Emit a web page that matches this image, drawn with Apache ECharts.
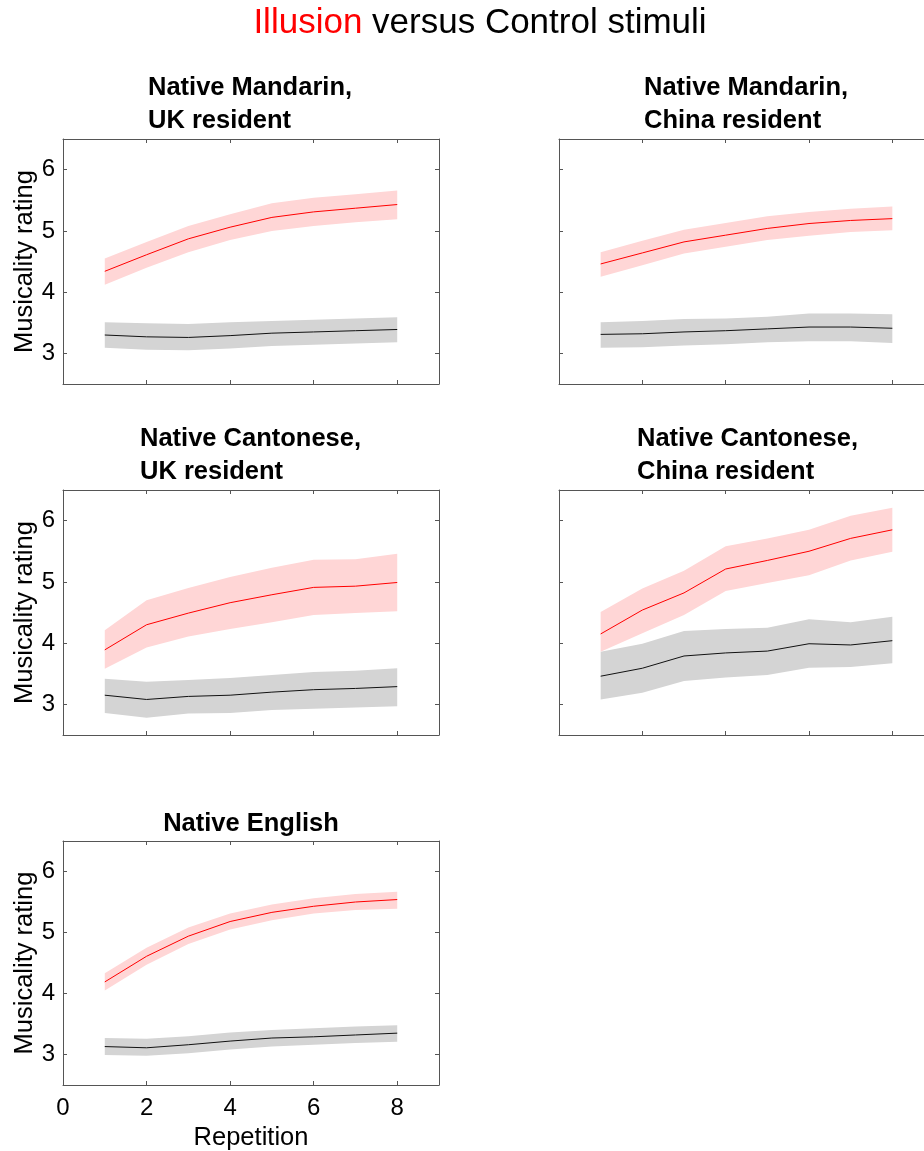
<!DOCTYPE html>
<html>
<head>
<meta charset="utf-8">
<script src="https://cdn.jsdelivr.net/npm/echarts@6.0.0/dist/echarts.min.js"></script>
<style>
  html, body { margin: 0; padding: 0; background: #fff; }
  #main { width: 924px; height: 1151px; }
</style>
</head>
<body>
<div id="main"></div>
<script>
const repetition = [1, 2, 3, 4, 5, 6, 7, 8];
const xTicks = [0, 2, 4, 6, 8];
const yTicks = [3, 4, 5, 6];

// Native Mandarin, UK resident
const mandUkIll   = [4.34, 4.61, 4.87, 5.06, 5.22, 5.31, 5.37, 5.43];
const mandUkIllLo = [4.12, 4.40, 4.65, 4.85, 5.00, 5.08, 5.14, 5.19];
const mandUkIllHi = [4.55, 4.82, 5.08, 5.27, 5.45, 5.54, 5.60, 5.66];
const mandUkCon   = [3.30, 3.27, 3.26, 3.29, 3.33, 3.35, 3.37, 3.39];
const mandUkConLo = [3.09, 3.06, 3.05, 3.08, 3.12, 3.14, 3.16, 3.18];
const mandUkConHi = [3.51, 3.49, 3.48, 3.51, 3.53, 3.55, 3.57, 3.59];

// Native Mandarin, China resident
const mandCnIll   = [4.46, 4.64, 4.82, 4.93, 5.04, 5.12, 5.17, 5.20];
const mandCnIllLo = [4.25, 4.44, 4.63, 4.74, 4.85, 4.92, 4.98, 5.01];
const mandCnIllHi = [4.65, 4.84, 5.02, 5.13, 5.24, 5.31, 5.36, 5.40];
const mandCnCon   = [3.31, 3.32, 3.35, 3.37, 3.40, 3.43, 3.43, 3.41];
const mandCnConLo = [3.09, 3.10, 3.13, 3.15, 3.18, 3.20, 3.20, 3.17];
const mandCnConHi = [3.51, 3.53, 3.56, 3.57, 3.60, 3.65, 3.65, 3.64];

// Native Cantonese, UK resident
const cantUkIll   = [3.89, 4.30, 4.49, 4.66, 4.79, 4.91, 4.93, 4.99];
const cantUkIllLo = [3.58, 3.93, 4.11, 4.23, 4.34, 4.46, 4.49, 4.52];
const cantUkIllHi = [4.21, 4.70, 4.90, 5.08, 5.23, 5.36, 5.37, 5.46];
const cantUkCon   = [3.15, 3.08, 3.13, 3.15, 3.20, 3.24, 3.26, 3.29];
const cantUkConLo = [2.86, 2.78, 2.85, 2.86, 2.91, 2.93, 2.95, 2.97];
const cantUkConHi = [3.42, 3.37, 3.40, 3.43, 3.48, 3.53, 3.55, 3.59];

// Native Cantonese, China resident
const cantCnIll   = [4.15, 4.54, 4.82, 5.21, 5.35, 5.50, 5.71, 5.85];
const cantCnIllLo = [3.86, 4.16, 4.46, 4.85, 4.98, 5.11, 5.35, 5.49];
const cantCnIllHi = [4.51, 4.89, 5.18, 5.58, 5.71, 5.85, 6.08, 6.21];
const cantCnCon   = [3.46, 3.59, 3.79, 3.84, 3.87, 3.99, 3.97, 4.04];
const cantCnConLo = [3.08, 3.19, 3.38, 3.44, 3.48, 3.60, 3.61, 3.67];
const cantCnConHi = [3.86, 3.99, 4.20, 4.23, 4.25, 4.39, 4.34, 4.43];

// Native English
const engIll   = [4.19, 4.61, 4.94, 5.18, 5.33, 5.43, 5.50, 5.54];
const engIllLo = [4.05, 4.47, 4.81, 5.05, 5.20, 5.31, 5.37, 5.39];
const engIllHi = [4.33, 4.75, 5.08, 5.31, 5.46, 5.56, 5.63, 5.67];
const engCon   = [3.13, 3.11, 3.16, 3.22, 3.27, 3.29, 3.32, 3.35];
const engConLo = [2.99, 2.98, 3.02, 3.08, 3.13, 3.16, 3.19, 3.21];
const engConHi = [3.27, 3.26, 3.30, 3.36, 3.40, 3.43, 3.46, 3.48];

const panelTitles = [
  'Native Mandarin,\nUK resident',
  'Native Mandarin,\nChina resident',
  'Native Cantonese,\nUK resident',
  'Native Cantonese,\nChina resident',
  'Native English'
];

const panels = [
  [mandUkIll, mandUkIllLo, mandUkIllHi, mandUkCon, mandUkConLo, mandUkConHi],
  [mandCnIll, mandCnIllLo, mandCnIllHi, mandCnCon, mandCnConLo, mandCnConHi],
  [cantUkIll, cantUkIllLo, cantUkIllHi, cantUkCon, cantUkConLo, cantUkConHi],
  [cantCnIll, cantCnIllLo, cantCnIllHi, cantCnCon, cantCnConLo, cantCnConHi],
  [engIll, engIllLo, engIllHi, engCon, engConLo, engConHi]
];

const FONT = 'Liberation Sans, Arial, sans-serif';
const AXIS_COLOR = '#555';

const gridPos = [
  { left: 63, top: 139, width: 376, height: 245 },
  { left: 559, top: 139, width: 375, height: 245 },
  { left: 63, top: 490, width: 376, height: 245 },
  { left: 559, top: 490, width: 375, height: 245 },
  { left: 63, top: 841, width: 376, height: 244 }
];

// title placement: [left, top, align]
const titlePos = [
  [148, 71, 'left'],
  [644, 71, 'left'],
  [140, 422, 'left'],
  [637, 422, 'left'],
  [251, 807, 'center']
];

const bandItem = (lo, hi, color) => (params, api) => {
  if (params.dataIndex !== 0) return;
  const pts = [];
  repetition.forEach((r, i) => pts.push(api.coord([r, hi[i]])));
  for (let i = repetition.length - 1; i >= 0; i--) pts.push(api.coord([repetition[i], lo[i]]));
  return {
    type: 'polygon',
    shape: { points: pts },
    style: { fill: color, stroke: null }
  };
};

const grid = [], xAxis = [], yAxis = [], series = [];
const title = [{
  text: '{r|Illusion} versus Control stimuli',
  left: 480, top: 6, textAlign: 'center', padding: 0,
  textStyle: {
    fontFamily: FONT, fontSize: 35, fontWeight: 'normal', color: '#000',
    rich: { r: { color: '#ff0000', fontFamily: FONT, fontSize: 35 } }
  }
}];

gridPos.forEach((g, i) => {
  grid.push(Object.assign({ outerBoundsMode: 'none', containLabel: false }, g));
  const showX = i === 4;
  const showY = i % 2 === 0;
  const tick = (vals) => ({ show: true, inside: true, length: 4, customValues: vals,
    lineStyle: { color: AXIS_COLOR, width: 1 } });
  const line = { show: true, onZero: false, lineStyle: { color: AXIS_COLOR, width: 1 } };
  xAxis.push({
    type: 'value', gridIndex: i, position: 'bottom', min: 0, max: 9,
    axisLine: line, axisTick: tick(xTicks), splitLine: { show: false },
    axisLabel: { show: showX, customValues: xTicks, margin: 11, color: '#000', fontSize: 24, fontFamily: FONT },
    name: showX ? 'Repetition' : '', nameLocation: 'middle', nameGap: 40,
    nameTextStyle: { color: '#000', fontSize: 25.5, fontFamily: FONT }
  });
  xAxis.push({
    type: 'value', gridIndex: i, position: 'top', min: 0, max: 9,
    axisLine: line, axisTick: tick(xTicks), splitLine: { show: false },
    axisLabel: { show: false }
  });
  yAxis.push({
    type: 'value', gridIndex: i, position: 'left', min: 2.5, max: 6.5,
    axisLine: line, axisTick: tick(yTicks), splitLine: { show: false },
    axisLabel: { show: showY, customValues: yTicks, margin: 8, color: '#000', fontSize: 24, fontFamily: FONT },
    name: showY ? 'Musicality rating' : '', nameLocation: 'middle', nameGap: 25,
    nameTextStyle: { color: '#000', fontSize: 25.5, fontFamily: FONT }
  });
  yAxis.push({
    type: 'value', gridIndex: i, position: 'right', min: 2.5, max: 6.5,
    axisLine: line, axisTick: tick(yTicks), splitLine: { show: false },
    axisLabel: { show: false }
  });

  const [ill, illLo, illHi, con, conLo, conHi] = panels[i];
  const xi = i * 2, yi = i * 2;
  series.push({
    type: 'custom', xAxisIndex: xi, yAxisIndex: yi, z: 1, silent: true,
    renderItem: bandItem(conLo, conHi, '#d4d4d4'),
    data: repetition.map((r, k) => [r, conLo[k], conHi[k]]),
    encode: { x: 0, y: [1, 2] }
  });
  series.push({
    type: 'custom', xAxisIndex: xi, yAxisIndex: yi, z: 1, silent: true,
    renderItem: bandItem(illLo, illHi, '#ffd6d6'),
    data: repetition.map((r, k) => [r, illLo[k], illHi[k]]),
    encode: { x: 0, y: [1, 2] }
  });
  series.push({
    type: 'line', xAxisIndex: xi, yAxisIndex: yi, z: 3, showSymbol: false, silent: true,
    data: repetition.map((r, k) => [r, con[k]]),
    lineStyle: { color: '#111', width: 1 }
  });
  series.push({
    type: 'line', xAxisIndex: xi, yAxisIndex: yi, z: 3, showSymbol: false, silent: true,
    data: repetition.map((r, k) => [r, ill[k]]),
    lineStyle: { color: '#ff0000', width: 1 }
  });

  const [tl, tt, ta] = titlePos[i];
  title.push({
    text: panelTitles[i], left: tl, top: tt, textAlign: ta, padding: 0,
    textStyle: { fontFamily: FONT, fontSize: 25.5, fontWeight: 'bold', color: '#000', lineHeight: 33 }
  });
});

const chart = echarts.init(document.getElementById('main'));
chart.setOption({
  animation: false,
  backgroundColor: '#fff',
  title, grid, xAxis, yAxis, series
});
window.onresize = () => { chart.resize(); };
</script>
</body>
</html>
